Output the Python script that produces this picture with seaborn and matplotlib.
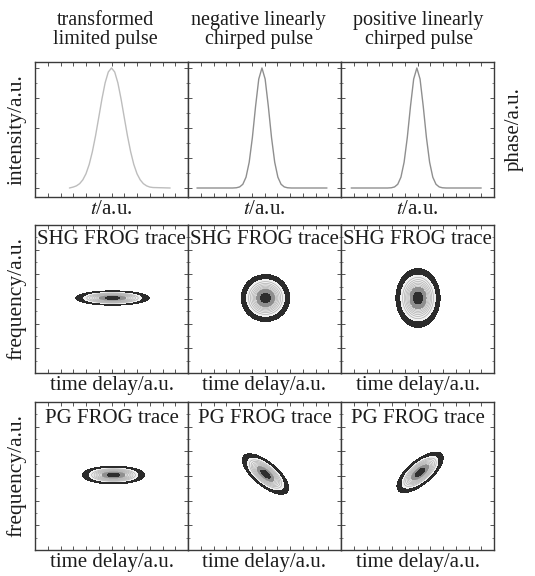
import matplotlib
matplotlib.use("Agg")
import matplotlib.pyplot as plt
from matplotlib.ticker import MultipleLocator
import numpy as np
import pandas as pd
import seaborn as sns

# column headings
column_titles = ["transformed\nlimited pulse",
                 "negative linearly\nchirped pulse",
                 "positive linearly\nchirped pulse"]

# pulse intensity profiles (t in panel units 0..12)
pulse1_t = [2.7, 3.0, 3.25, 3.5, 3.75, 4.0, 4.25, 4.5, 4.75, 5.0, 5.25, 5.5, 5.75, 6.0,
            6.25, 6.5, 6.75, 7.0, 7.25, 7.5, 7.75, 8.0, 8.25, 8.5, 8.75, 9.0, 9.25, 10.6]
pulse1_i = [0.0, 0.008, 0.018, 0.036, 0.068, 0.119, 0.196, 0.303, 0.436, 0.588, 0.742, 0.876, 0.967, 1.0,
            0.967, 0.876, 0.742, 0.588, 0.436, 0.303, 0.196, 0.119, 0.068, 0.036, 0.018, 0.008, 0.004, 0.0]

pulse2_t = [0.7, 3.5, 3.8, 4.05, 4.3, 4.55, 4.8, 5.05, 5.3, 5.55, 5.8,
            6.05, 6.3, 6.55, 6.8, 7.05, 7.3, 7.55, 7.8, 8.1, 10.9]
pulse2_i = [0.0, 0.0, 0.002, 0.009, 0.031, 0.090, 0.215, 0.421, 0.681, 0.908, 1.0,
            0.908, 0.681, 0.421, 0.215, 0.090, 0.031, 0.009, 0.002, 0.0, 0.0]

pulse3_t = [0.8, 3.65, 3.95, 4.2, 4.45, 4.7, 4.95, 5.2, 5.45, 5.7, 5.95,
            6.2, 6.45, 6.7, 6.95, 7.2, 7.45, 7.7, 7.95, 8.25, 11.0]
pulse3_i = pulse2_i

pulse_colors = ["#bdbdbd", "#8f8f8f", "#8f8f8f"]

# FROG trace ellipses: centre, outer half-width, outer half-height, tilt (deg)
shg_cx = [6.08, 6.08, 6.04]
shg_cy = [6.08, 6.08, 6.08]
shg_half_w = [2.88, 1.90, 1.73]
shg_half_h = [0.58, 1.90, 2.39]
shg_tilt = [0, 0, 0]

pg_cx = [6.16, 6.08, 6.20]
pg_cy = [6.08, 6.16, 6.30]
pg_half_w = [2.45, 2.25, 2.25]
pg_half_h = [0.72, 0.95, 0.95]
pg_tilt = [0, -41, 41]

sns.set_theme(style="ticks")
plt.rcParams["font.family"] = ["Liberation Serif", "DejaVu Serif"]
plt.rcParams["mathtext.fontset"] = "stix"
ink = "#1c1c1c"
plt.rcParams["text.color"] = ink
plt.rcParams["axes.labelcolor"] = ink

fig = plt.figure(figsize=(5.35, 5.76), dpi=100)

lefts = [35 / 535, 188 / 535, 341 / 535]
width = 153 / 535
row_bottoms = [1 - 197 / 576, 1 - 373 / 576, 1 - 550 / 576]
row_heights = [135 / 576, 148 / 576, 148 / 576]


def style_axes(ax, ymajor):
    ax.set_xlim(0, 12)
    ax.xaxis.set_major_locator(MultipleLocator(1))
    ax.yaxis.set_major_locator(MultipleLocator(ymajor))
    ax.yaxis.set_minor_locator(MultipleLocator(ymajor / 2))
    ax.tick_params(which="both", direction="in", top=True, right=True,
                   labelbottom=False, labelleft=False, color="#555555")
    ax.tick_params(which="major", length=3, width=0.7)
    ax.tick_params(which="minor", length=1.5, width=0.5)
    for s in ax.spines.values():
        s.set_color("#3a3a3a")
        s.set_linewidth(1.0)


# top row: intensity profiles
pulses = [(pulse1_t, pulse1_i), (pulse2_t, pulse2_i), (pulse3_t, pulse3_i)]
for k, (t, inten) in enumerate(pulses):
    ax = fig.add_axes([lefts[k], row_bottoms[0], width, row_heights[0]])
    df = pd.DataFrame({"t": t, "intensity": inten})
    sns.lineplot(data=df, x="t", y="intensity", ax=ax, color=pulse_colors[k], lw=1.0)
    ax.set_ylim(-0.075, 1.05)
    style_axes(ax, 0.25)
    ax.yaxis.set_minor_locator(MultipleLocator(0.125))
    ax.set_xlabel("$t$/a.u.", fontsize=15, labelpad=2)
    ax.set_ylabel("")
    if k == 0:
        ax.set_ylabel("intensity/a.u.", fontsize=15.5, labelpad=6)
    if k == 2:
        ax.yaxis.set_label_position("right")
        ax.set_ylabel("phase/a.u.", fontsize=15, labelpad=8)
    fig.text(lefts[k] + width / 2 - (0.011 if k < 2 else -0.002), 1 - 30 / 576,
             column_titles[k], ha="center", va="center", fontsize=14.5,
             linespacing=0.95)

# FROG traces
gx, gy = np.meshgrid(np.linspace(0, 12, 400), np.linspace(0, 12, 400))
fill_levels = [0.03, 0.12, 0.63, 0.87, 1.01]
fill_colors = ["#2b2b2b", "#f0f0f0", "#8e8e8e", "#2e2e2e"]
line_levels = np.linspace(0.18, 0.56, 6)


def draw_trace(ax, cx, cy, hw, hh, tilt):
    th = np.deg2rad(tilt)
    u = (gx - cx) * np.cos(th) + (gy - cy) * np.sin(th)
    v = -(gx - cx) * np.sin(th) + (gy - cy) * np.cos(th)
    k = np.sqrt(2 * 3.5)
    z = np.exp(-(u / (hw / k)) ** 2 / 2 - (v / (hh / k)) ** 2 / 2)
    ax.contourf(gx, gy, z, levels=fill_levels, colors=fill_colors)
    ax.contour(gx, gy, z, levels=line_levels, colors="#b0b0b0", linewidths=0.5)


rows = [("SHG FROG trace", shg_cx, shg_cy, shg_half_w, shg_half_h, shg_tilt, 0.90),
        ("PG FROG trace", pg_cx, pg_cy, pg_half_w, pg_half_h, pg_tilt, 0.89)]
for r, (label, cxs, cys, hws, hhs, tilts, ty) in enumerate(rows):
    for k in range(3):
        ax = fig.add_axes([lefts[k], row_bottoms[r + 1], width, row_heights[r + 1]])
        draw_trace(ax, cxs[k], cys[k], hws[k], hhs[k], tilts[k])
        ax.set_ylim(0, 12)
        style_axes(ax, 2)
        ax.text(0.5, ty, label, transform=ax.transAxes, ha="center", va="center",
                fontsize=15)
        ax.set_xlabel("time delay/a.u.", fontsize=15, labelpad=2)
        if k == 0:
            ax.set_ylabel("frequency/a.u.", fontsize=15.5, labelpad=6)

fig.savefig("out.png", dpi=100)
